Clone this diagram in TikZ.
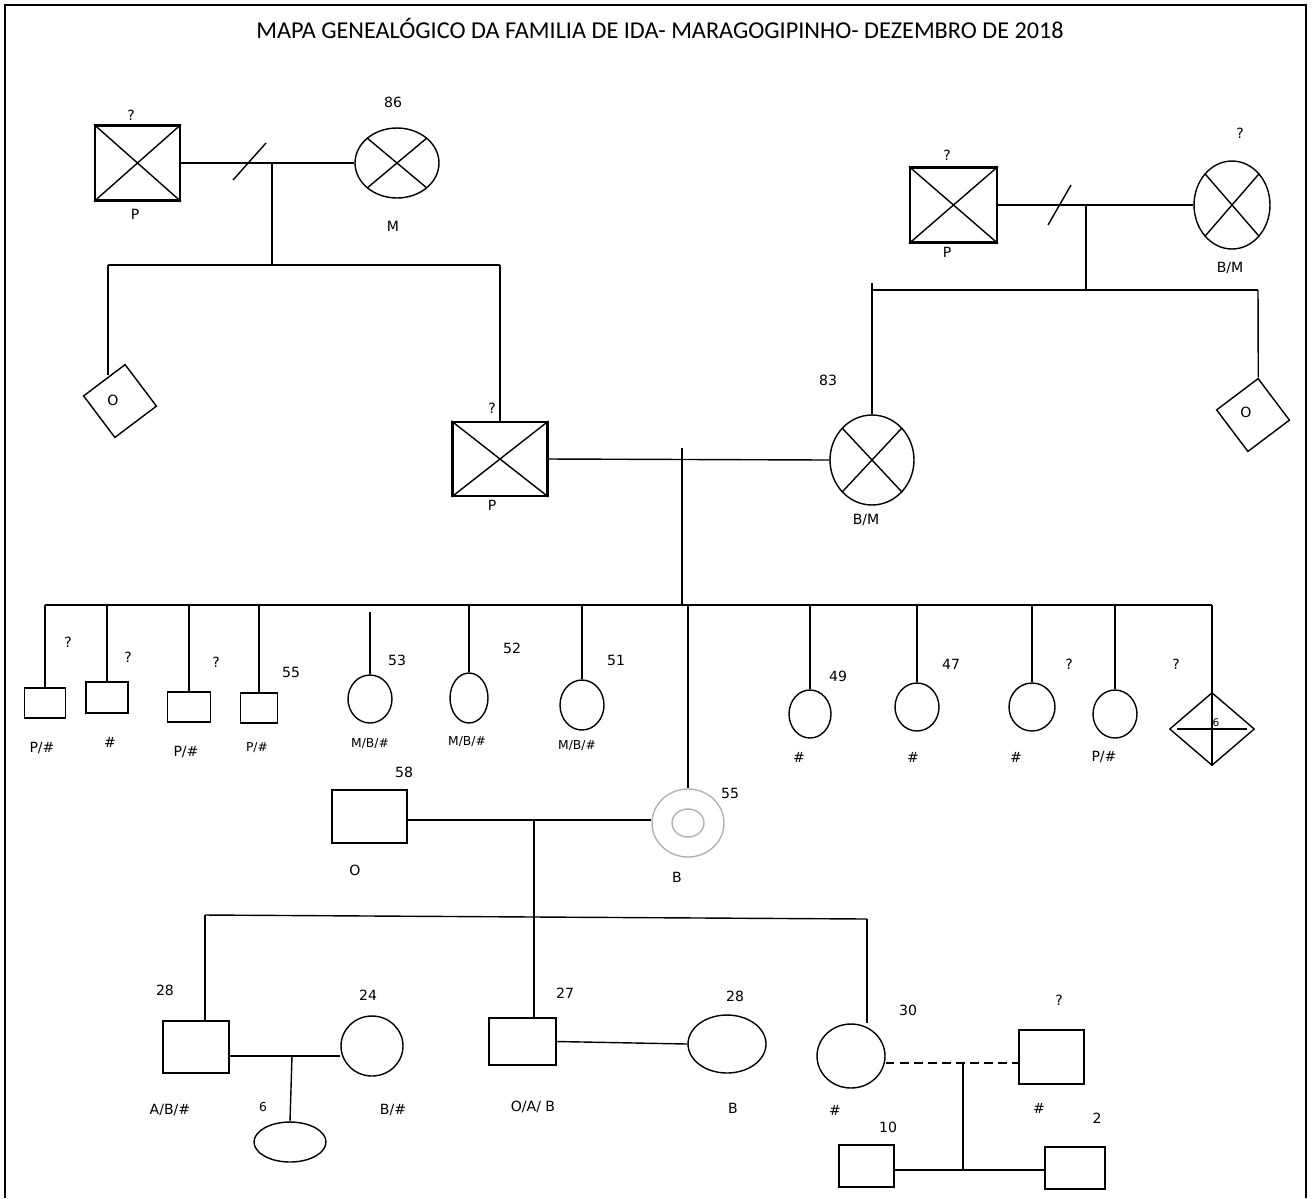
\documentclass[tikz,border=0pt]{standalone}
\usepackage{fontspec}
\setmainfont{DejaVu Sans}
\newfontfamily\titlefont{Carlito}
\usetikzlibrary{shapes.geometric}

\begin{document}
\begin{tikzpicture}[x=0.02cm,y=-0.02cm,line width=0.8pt,
  lbl/.style={font=\fontsize{8}{9}\selectfont,inner sep=1pt},
  man/.style={draw,rectangle,inner sep=0pt},
  woman/.style={draw,ellipse,inner sep=0pt},
  dead/.style={line width=1.2pt},
  unk/.style={draw,rectangle,inner sep=0pt,minimum size=1.04cm,rotate=37}]
  \useasboundingbox (0,0) rectangle (1314,1198);
  \draw[line width=1.4pt] (5,1198) -- (5,5) -- (1306,5) -- (1306,1198);
  \node[font=\titlefont\fontsize{13.8}{15}\selectfont] (title) at (660,28)
    {MAPA GENEALÓGICO DA FAMILIA DE IDA- MARAGOGIPINHO- DEZEMBRO DE 2018};

  % avos paternos
  \node[man,dead,minimum width=1.70cm,minimum height=1.50cm] (gpa1) at (137.5,163) {};
  \node[woman,minimum width=1.68cm,minimum height=1.40cm] (gma1) at (397,163) {};
  \draw (gpa1.north west) -- (gpa1.south east) (gpa1.north east) -- (gpa1.south west);
  \draw (gma1.north west) -- (gma1.south east) (gma1.north east) -- (gma1.south west);
  \coordinate (m1) at (272,163);
  \draw (gpa1.east) -- (gma1.west);
  \draw (233,180) -- (266,143);
  \node[lbl] (q1) at (131,115) {?};
  \node[lbl] (p1) at (135,214) {P};
  \node[lbl] (a86) at (393,102) {86};
  \node[lbl] (mm1) at (393,226) {M};

  % avos maternos
  \node[man,dead,minimum width=1.74cm,minimum height=1.50cm] (gpa2) at (953.5,205) {};
  \node[woman,minimum width=1.52cm,minimum height=1.76cm] (gma2) at (1232,205) {};
  \draw (gpa2.north west) -- (gpa2.south east) (gpa2.north east) -- (gpa2.south west);
  \draw (gma2.north west) -- (gma2.south east) (gma2.north east) -- (gma2.south west);
  \coordinate (m2) at (1086,205);
  \draw (gpa2.east) -- (gma2.west);
  \draw (1048,225) -- (1071,185);
  \node[lbl] (q2) at (947,155) {?};
  \node[lbl] (p2) at (947,252) {P};
  \node[lbl] (q3) at (1240,133) {?};
  \node[lbl] (bm1) at (1230,268) {B/M};

  % pais
  \node[man,dead,minimum width=1.90cm,minimum height=1.48cm] (pai) at (500,459) {};
  \node[woman,minimum width=1.68cm,minimum height=1.80cm] (mae) at (872,460) {};
  \draw (pai.north west) -- (pai.south east) (pai.north east) -- (pai.south west);
  \draw (mae.north west) -- (mae.south east) (mae.north east) -- (mae.south west);
  \coordinate (m3) at (682,459);
  \draw (pai.east) -- (mae.west);
  \node[lbl] (q4) at (492,408) {?};
  \node[lbl] (p3) at (492,505) {P};
  \node[lbl] (a83) at (828,380) {83};
  \node[lbl] (bm2) at (866,520) {B/M};

  % tios
  \node[unk] (tio1) at (120,401) {};
  \node[lbl] (o1) at (113,400) {O};
  \node[unk] (tio2) at (1253,415) {};
  \node[lbl] (o2) at (1246,412) {O};

  \coordinate (sib1a) at (108,265);
  \coordinate (sib1b) at (500,265);
  \draw (m1) -- (m1 |- sib1a);
  \draw (sib1a) -- (sib1b);
  \draw (sib1a) -- ([yshift=-0.22cm]sib1a |- tio1.north east);
  \draw (sib1b) -- (pai.north);
  \coordinate (sib2a) at (872,290);
  \coordinate (sib2b) at (1258,290);
  \draw (m2) -- (m2 |- sib2a);
  \draw (sib2a) -- (sib2b);
  \draw (872,283) -- (mae.north);
  \draw (sib2b) -- (tio2.north east);

  % irmaos
  \coordinate (sib3) at (0,605);
  \node[man,minimum width=0.82cm,minimum height=0.60cm] (c1) at (45,703) {};
  \node[man,minimum width=0.84cm,minimum height=0.62cm] (c2) at (107,697.5) {};
  \node[man,minimum width=0.86cm,minimum height=0.60cm] (c3) at (189,707) {};
  \node[man,minimum width=0.74cm,minimum height=0.60cm] (c4) at (259,708) {};
  \node[woman,minimum width=0.88cm,minimum height=0.96cm] (c5) at (370,699) {};
  \node[woman,minimum width=0.76cm,minimum height=1.00cm] (c6) at (469,698) {};
  \node[woman,minimum width=0.88cm,minimum height=1.00cm] (c7) at (582,705) {};
  \node[woman,minimum width=0.84cm,minimum height=0.96cm] (c8) at (810,714) {};
  \node[woman,minimum width=0.88cm,minimum height=0.96cm] (c9) at (917,707) {};
  \node[woman,minimum width=0.92cm,minimum height=0.96cm] (c10) at (1032,707) {};
  \node[woman,minimum width=0.88cm,minimum height=0.96cm] (c11) at (1115,714) {};
  \node[draw,diamond,inner sep=0pt,minimum width=1.70cm,minimum height=1.46cm] (c12) at (1212,729) {};
  \draw (m3) ++(0,-11) -- (m3 |- sib3);
  \draw (c1.north |- sib3) -- (c12.north |- sib3);
  \foreach \k in {c1,c2,c3,c4,c6,c7,c8,c9,c10,c11}
    \draw (\k.north |- sib3) -- (\k.north);
  \draw (370,612) -- (c5.north);
  \draw (c12.north |- sib3) -- (c12.south);
  \draw (c12.west) ++(8,0) -- ([xshift=-0.16cm]c12.east);
  \node[lbl,font=\fontsize{6}{7}\selectfont] (s6) at (1216,723) {6};

  \node[lbl] (q5) at (68,642) {?};
  \node[lbl] (l1) at (42,748) {P/\#};
  \node[lbl] (q6) at (128,657) {?};
  \node[lbl] (l2) at (110,742) {\#};
  \node[lbl] (q7) at (216,662) {?};
  \node[lbl] (l3) at (186,752) {P/\#};
  \node[lbl] (a55a) at (291,672) {55};
  \node[lbl,font=\fontsize{7}{8}\selectfont] (l4) at (257,748) {P/\#};
  \node[lbl] (a53) at (397,660) {53};
  \node[lbl,font=\fontsize{7}{8}\selectfont] (l5) at (370,744) {M/B/\#};
  \node[lbl] (a52) at (512,648) {52};
  \node[lbl,font=\fontsize{7}{8}\selectfont] (l6) at (467,742) {M/B/\#};
  \node[lbl] (a51) at (616,660) {51};
  \node[lbl,font=\fontsize{7}{8}\selectfont] (l7) at (577,746) {M/B/\#};
  \node[lbl] (a49) at (838,676) {49};
  \node[lbl] (l8) at (799,757) {\#};
  \node[lbl] (a47) at (951,664) {47};
  \node[lbl] (l9) at (913,757) {\#};
  \node[lbl] (q8) at (1069,664) {?};
  \node[lbl] (l10) at (1016,757) {\#};
  \node[lbl] (l11) at (1104,757) {P/\#};
  \node[lbl] (q9) at (1176,664) {?};

  % Ida e marido
  \node[man,minimum width=1.50cm,minimum height=1.06cm] (mar) at (369.5,816.5) {};
  \node[woman,draw=gray!60,minimum width=1.44cm,minimum height=1.36cm] (ida) at (688,823) {};
  \node[woman,draw=gray!60,minimum width=0.64cm,minimum height=0.56cm] (idain) at (ida) {};
  \coordinate (m4) at (534,820);
  \draw (mar.east |- m4) -- (ida.west |- m4);
  \draw (ida.north |- sib3) -- (ida.north);
  \node[lbl] (a58) at (404,772) {58};
  \node[lbl] (o3) at (355,870) {O};
  \node[lbl] (a55b) at (730,793) {55};
  \node[lbl] (b1) at (677,877) {B};

  % filhos
  \node[man,minimum width=1.32cm,minimum height=1.04cm] (f28) at (196,1047) {};
  \node[woman,minimum width=1.24cm,minimum height=1.20cm] (n24) at (372,1046) {};
  \node[woman,minimum width=1.44cm,minimum height=0.80cm] (neta) at (290,1142) {};
  \node[man,minimum width=1.34cm,minimum height=0.94cm] (f27) at (522.5,1041.5) {};
  \node[woman,minimum width=1.56cm,minimum height=1.16cm] (n28) at (727,1044) {};
  \node[woman,minimum width=1.36cm,minimum height=1.28cm] (f30) at (851,1056) {};
  \node[man,minimum width=1.30cm,minimum height=1.08cm] (pq) at (1051.5,1057) {};
  \node[man,minimum width=1.10cm,minimum height=0.84cm] (n10) at (866.5,1166) {};
  \node[man,minimum width=1.20cm,minimum height=0.84cm] (n2) at (1075,1168) {};

  \coordinate (sib4a) at (205,915);
  \coordinate (sib4b) at (867,919);
  \draw (sib4a) -- (sib4b);
  \draw (m4) -- (m4 |- f27.north);
  \draw (sib4a) -- (sib4a |- f28.north);
  \draw (sib4b) -- (sib4b |- f30.north);
  \coordinate (m5) at (292,1056);
  \draw (f28.east |- m5) -- (n24.west |- m5);
  \draw (m5) -- (neta.north);
  \draw (f27.east) -- (n28.west);
  \coordinate (m6) at (963,1063);
  \draw[dashed,dash pattern=on 5pt off 3pt] (f30.east |- m6) -- (pq.west |- m6);
  \coordinate (m7) at (963,1170);
  \draw (m6) -- (m7);
  \draw (n10.east |- m7) -- (n2.west |- m7);

  \node[lbl] (a28a) at (165,990) {28};
  \node[lbl] (l12) at (170,1110) {A/B/\#};
  \node[lbl] (a24) at (368,995) {24};
  \node[lbl] (l13) at (393,1110) {B/\#};
  \node[lbl,font=\fontsize{7}{8}\selectfont] (a6) at (263,1107) {6};
  \node[lbl] (a27) at (565,993) {27};
  \node[lbl] (l14) at (533,1107) {O/A/ B};
  \node[lbl] (a28b) at (735,996) {28};
  \node[lbl] (b2) at (733,1108) {B};
  \node[lbl] (a30) at (908,1010) {30};
  \node[lbl] (l15) at (835,1110) {\#};
  \node[lbl] (q10) at (1059,1000) {?};
  \node[lbl] (l16) at (1039,1108) {\#};
  \node[lbl] (a10) at (888,1127) {10};
  \node[lbl] (a2) at (1097,1118) {2};
\end{tikzpicture}
\end{document}
